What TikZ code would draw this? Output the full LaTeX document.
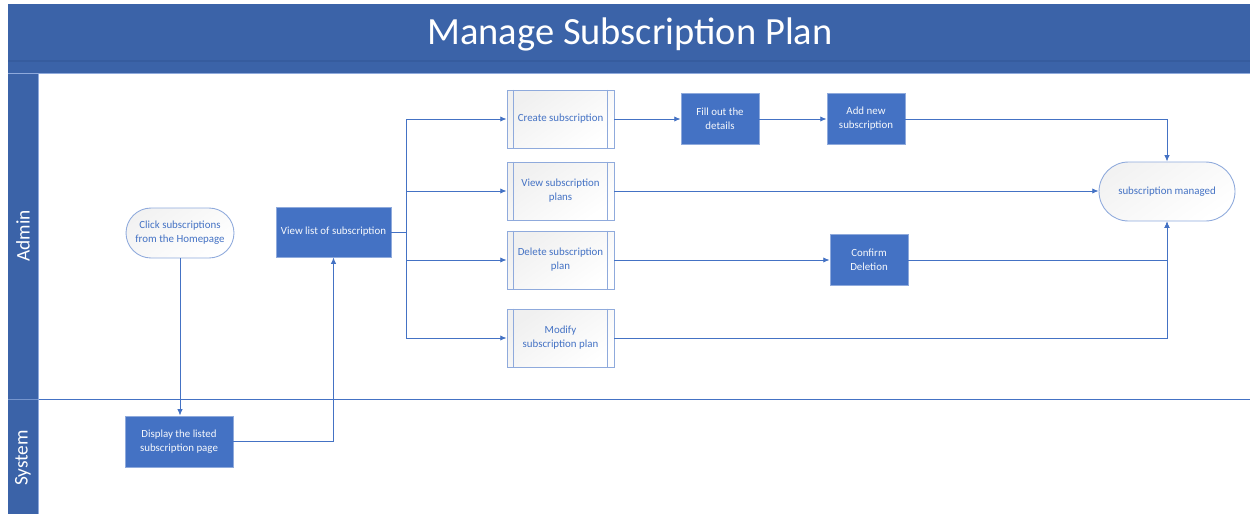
\documentclass[tikz,border=0pt]{standalone}
\usepackage{fontspec}
\setmainfont{Carlito}
\usetikzlibrary{arrows.meta}
\definecolor{titleblue}{RGB}{59,99,168}
\definecolor{bandblue}{RGB}{54,92,158}
\definecolor{boxblue}{RGB}{68,114,196}
\definecolor{edgeblue}{RGB}{143,170,220}
\begin{document}
\begin{tikzpicture}[x=0.02cm,y=-0.02cm,
	every node/.style={font=\fontsize{6.2}{7.9}\selectfont,align=center,inner sep=0pt},
	task/.style={rectangle,fill=boxblue,draw=edgeblue,line width=0.5pt,text=white!95!boxblue,minimum height=1.02cm},
	proc/.style={rectangle,draw=edgeblue,line width=0.5pt,top color=black!6,bottom color=white,shading angle=35,text=boxblue,minimum width=2.14cm,minimum height=1.16cm},
	term/.style={rectangle,draw=edgeblue,line width=0.5pt,top color=black!5,bottom color=white,shading angle=35,text=boxblue},
	flow/.style={draw=boxblue,line width=0.5pt,-{Latex[length=3.6pt,width=3pt]}},
	link/.style={draw=boxblue,line width=0.5pt}]
		\useasboundingbox (0,0) rectangle (1250,514);
		% pool and lanes
		\fill [titleblue] (8,4) rectangle (1250,73);
		\draw [bandblue,line width=0.6pt] (8,61) -- (1250,61);
		\fill [titleblue] (8,73) rectangle (38,514);
		\draw [edgeblue,line width=0.5pt] (8,73) -- (1250,73);
		\draw [boxblue,line width=0.5pt] (38,399) -- (1250,399);
		\draw [edgeblue!70!titleblue,line width=0.5pt] (8,399) -- (38,399);
		\draw [edgeblue,line width=0.5pt] (38,73) -- (38,514);
		\node (title) [text=white,font=\fontsize{21.9}{24}\selectfont] at (630,34) {Manage Subscription Plan};
		\node (admin) [text=white,rotate=90,font=\fontsize{11}{12}\selectfont] at (23,236) {Admin};
		\node (system) [text=white,rotate=90,font=\fontsize{11}{12}\selectfont] at (23,458) {System};
		% admin lane
		\node (click) [term,minimum width=2.16cm,minimum height=1cm,rounded corners=0.5cm] at (180,233) {Click subscriptions\\from the Homepage};
		\node (viewlist) [task,minimum width=2.3cm,minimum height=1cm] at (333.5,232) {View list of subscription};
		\node (create) [proc] at (560.5,119) {Create subscription};
		\node (viewplans) [proc] at (560.5,191) {View subscription\\plans};
		\node (delete) [proc] at (560.5,260) {Delete subscription\\plan};
		\node (modify) [proc] at (560.5,338) {Modify\\subscription plan};
		\node (fill) [task,minimum width=1.56cm] at (720,119) {Fill out the\\details};
		\node (addnew) [task,minimum width=1.56cm] at (866,119) {Add new\\subscription};
		\node (confirm) [task,minimum width=1.56cm] at (869,260) {Confirm\\Deletion};
		\node (managed) [term,minimum width=2.72cm,minimum height=1.18cm,rounded corners=0.59cm] at (1167,191.5) {subscription managed};
		% system lane
		\node (display) [task,minimum width=2.16cm] at (179,441.5) {Display the listed\\subscription page};
		% side bars of the predefined processes
		\foreach \n in {create,viewplans,delete,modify} {
			\draw [edgeblue,line width=0.5pt] ([xshift=0.14cm]\n.north west) -- ([xshift=0.14cm]\n.south west);
			\draw [edgeblue,line width=0.5pt] ([xshift=-0.14cm]\n.north east) -- ([xshift=-0.14cm]\n.south east);
		}
		% connectors
		\draw [flow] (click.south) -- (click.south |- display.north);
		\draw [flow] (display.east) -| (viewlist.south);
		\coordinate (bus) at (406,232);
		\draw [link] (viewlist.east) -- (bus);
		\draw [link] (bus |- create.west) -- (bus |- modify.west);
		\foreach \n in {create,viewplans,delete,modify}
			\draw [flow] (bus |- \n.west) -- (\n.west);
		\draw [flow] (create) -- (fill);
		\draw [flow] (fill) -- (addnew);
		\draw [flow] (addnew.east) -| (managed.north);
		\draw [flow] (viewplans.east) -- (viewplans.east -| managed.west);
		\draw [flow] (delete.east) -- (delete.east -| confirm.west);
		\draw [flow] (confirm.east) -| (managed.south);
		\draw [flow] (modify.east) -| (managed.south);
\end{tikzpicture}
\end{document}
